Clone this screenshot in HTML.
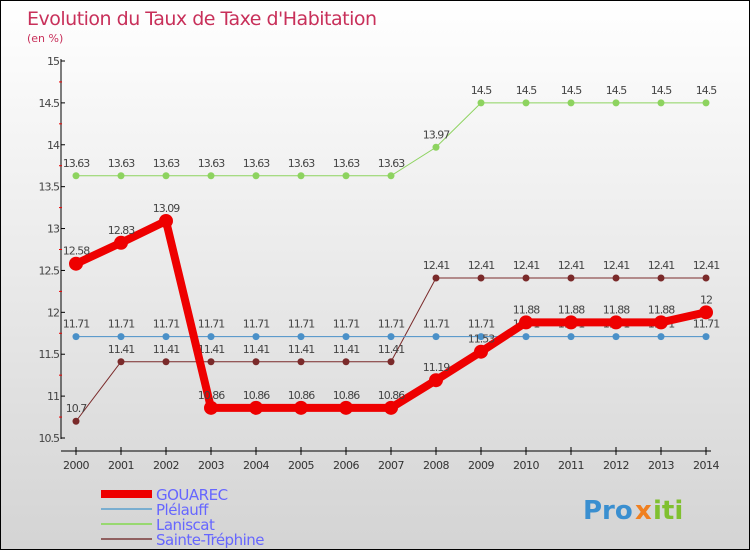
<!DOCTYPE html>
<html><head><meta charset="utf-8"><style>
body{margin:0}
#c{position:relative;width:748px;height:548px;border:1px solid #000;background:linear-gradient(#fff,#d4d4d4);font-family:"DejaVu Sans","Liberation Sans",sans-serif;overflow:hidden}
text{font-family:"DejaVu Sans","Liberation Sans",sans-serif}
</style></head><body>
<div id="c">
<svg id="s" width="748" height="548">
<text x="26" y="24" font-size="19" fill="#c8305a" style="letter-spacing:-0.5px">Evolution du Taux de Taxe d'Habitation</text>
<text x="26" y="41" font-size="11" fill="#c8305a">(en %)</text>
<g id="g"></g>
</svg>
</div>
<script>
const years=[2000,2001,2002,2003,2004,2005,2006,2007,2008,2009,2010,2011,2012,2013,2014];
const gouarec=[12.58,12.83,13.09,10.86,10.86,10.86,10.86,10.86,11.19,11.53,11.88,11.88,11.88,11.88,12];
const plelauff=[11.71,11.71,11.71,11.71,11.71,11.71,11.71,11.71,11.71,11.71,11.71,11.71,11.71,11.71,11.71];
const laniscat=[13.63,13.63,13.63,13.63,13.63,13.63,13.63,13.63,13.97,14.5,14.5,14.5,14.5,14.5,14.5];
const sainte=[10.7,11.41,11.41,11.41,11.41,11.41,11.41,11.41,12.41,12.41,12.41,12.41,12.41,12.41,12.41];
const yTicks=[10.5,11,11.5,12,12.5,13,13.5,14,14.5,15];
const X=i=>75+i*45, Y=v=>437-(v-10.5)*83.78;
const g=document.getElementById('g'),NS='http://www.w3.org/2000/svg';
function el(t,a,txt){const e=document.createElementNS(NS,t);for(const k in a)e.setAttribute(k,a[k]);if(txt!=null)e.textContent=txt;g.appendChild(e);return e;}
let e=el('line',{x1:60,y1:58,x2:60,y2:438,stroke:'#000'});

e=el('line',{x1:60,y1:450,x2:710,y2:450,stroke:'#000'});

yTicks.forEach((v,i)=>{el('line',{x1:60,y1:Y(v),x2:64,y2:Y(v),stroke:'#000'});
 e=el('text',{x:58,y:Y(v)+4,'font-size':11,fill:'#444','text-anchor':'end','letter-spacing':'-1'},String(v));
 
 if(i<yTicks.length-1)el('line',{x1:58,y1:Y(v+0.25),x2:61,y2:Y(v+0.25),stroke:'#e00'});});
years.forEach((yr,i)=>{el('line',{x1:X(i),y1:446,x2:X(i),y2:454,stroke:'#000'});
 e=el('text',{x:X(i),y:468,'font-size':11,fill:'#333','text-anchor':'middle','letter-spacing':'-0.5'},String(yr));
 });
function series(vals,color,w,r,name){
 const p=el('polyline',{points:vals.map((v,i)=>X(i)+','+Y(v)).join(' '),fill:'none',stroke:color,'stroke-width':w});
 
 vals.forEach((v,i)=>{const c=el('circle',{cx:X(i),cy:Y(v),r:r,fill:color});
  
  const t=el('text',{x:X(i),y:Y(v)-9,'font-size':11,fill:'#444','text-anchor':'middle','letter-spacing':'-1'},String(v));
  });
}
series(laniscat,'#8dd35f',1,3.5,'laniscat');
series(sainte,'#7a2a2a',1,3.5,'sainte-trephine');
series(plelauff,'#4a90c8',1,3.5,'plelauff');
series(gouarec,'#ee0000',8,7,'gouarec');
const leg=[['GOUAREC','#ee0000',8],['Plélauff','#7aaed0',2],['Laniscat','#98d870',2],['Sainte-Tréphine','#906060',2]];
leg.forEach((l,i)=>{const y=493+i*15;
 e=el('line',{x1:100,y1:y,x2:151,y2:y,stroke:l[1],'stroke-width':l[2]});
 
 e=el('text',{x:155,y:y+6,'font-size':15,fill:'#6666ff','letter-spacing':'-0.5'},l[0]);
 });
e=el('text',{x:582,y:518,'font-size':26,'font-weight':'bold',fill:'#3a8fd0'},'Pro');

el('text',{x:634,y:518,'font-size':26,'font-weight':'bold',fill:'#f08020'},'x');
el('text',{x:652,y:518,'font-size':26,'font-weight':'bold',fill:'#80c030'},'iti');
</script>
</body></html>
